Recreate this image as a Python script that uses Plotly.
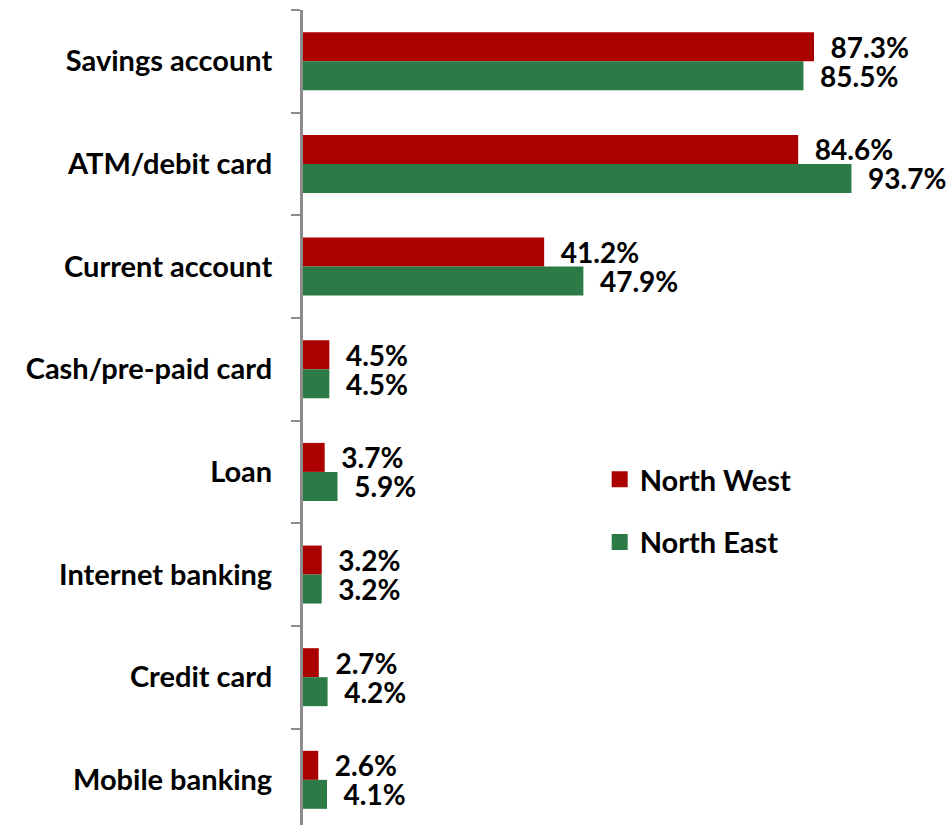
import plotly.graph_objects as go

categories = ["Savings account", "ATM/debit card", "Current account", "Cash/pre-paid card",
              "Loan", "Internet banking", "Credit card", "Mobile banking"]
north_west = [87.3, 84.6, 41.2, 4.5, 3.7, 3.2, 2.7, 2.6]
north_east = [85.5, 93.7, 47.9, 4.5, 5.9, 3.2, 4.2, 4.1]

RED = "#AA0000"
GREEN = "#2C7B47"
FONT = "Lato"
FS = 29

fig = go.Figure()
for name, vals, col in [("North West", north_west, RED), ("North East", north_east, GREEN)]:
    fig.add_trace(go.Bar(
        y=categories, x=vals, orientation="h", name=name,
        marker=dict(color=col, line=dict(width=0)),
        text=["\u00a0\u00a0" + f"{v:.1f}%" for v in vals],
        textposition="outside", cliponaxis=False, constraintext="none",
        textfont=dict(family=FONT, size=28, color="black", weight="bold"),
        showlegend=False, hoverinfo="skip",
    ))
    fig.add_trace(go.Scatter(
        x=[None], y=[None], mode="markers", name=name,
        marker=dict(symbol="square", size=20, color=col),
        legendgroup=name, showlegend=True,
    ))

fig.update_layout(
    width=951, height=825,
    margin=dict(l=303, r=10, t=10, b=0),
    plot_bgcolor="white", paper_bgcolor="white",
    barmode="group", bargap=0.435, bargroupgap=0,
    font=dict(family=FONT, size=FS, color="black"),
    legend=dict(x=0.465, y=0.4552, xanchor="left", yanchor="top",
                font=dict(family=FONT, size=FS, color="black", weight="bold"),
                tracegroupgap=22, itemsizing="trace", bgcolor="rgba(0,0,0,0)"),
    xaxis=dict(range=[0, 109], visible=False, showgrid=False, zeroline=False),
    yaxis=dict(range=[7.44, -0.5], showline=True, linecolor="#8C8C8C", linewidth=3,
               ticks="outside", ticklen=9, tickwidth=2, tickcolor="#8C8C8C",
               tickson="boundaries", showgrid=False, ticklabelstandoff=22,
               tickfont=dict(family=FONT, size=FS, color="black", weight="bold")),
)

fig.write_html("out.html", config={"displayModeBar": False},
               post_script="document.body.style.margin='0';document.body.style.overflow='hidden';")
